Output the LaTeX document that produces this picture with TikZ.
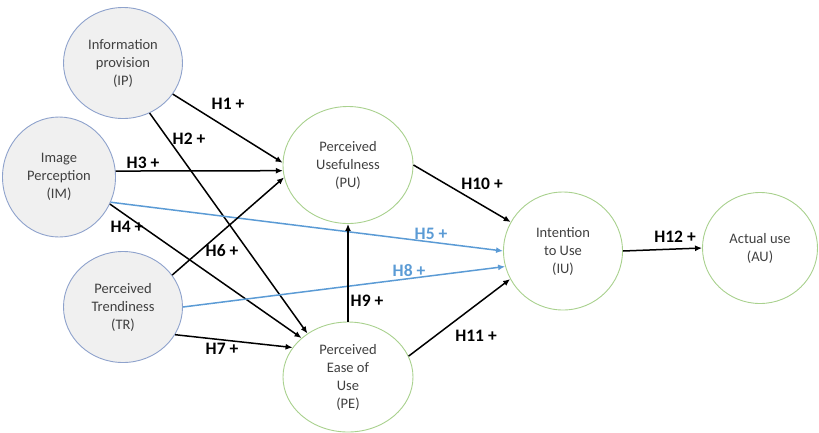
\documentclass[tikz,border=0pt]{standalone}
\usepackage{fontspec}
\setmainfont{Carlito}
\usetikzlibrary{shapes.geometric,arrows.meta}
\definecolor{grayfill}{HTML}{F0F0F0}
\definecolor{grayedge}{HTML}{8EA2CC}
\definecolor{greenedge}{HTML}{A9D18E}
\definecolor{bluearrow}{HTML}{5B9BD5}
\definecolor{nodetext}{HTML}{404040}
\begin{document}
\begin{tikzpicture}[x=1pt,y=-1pt,
  src/.style={ellipse,draw=grayedge,fill=grayfill,line width=0.9pt,text=nodetext,font=\fontsize{14.5}{18}\selectfont,align=center,inner sep=0pt},
  tgt/.style={ellipse,draw=greenedge,fill=white,line width=0.9pt,text=nodetext,font=\fontsize{14.5}{18}\selectfont,align=center,inner sep=0pt},
  link/.style={line width=1.5pt,-{Latex[length=7pt,width=6pt]}},
  blink/.style={link,draw=bluearrow,-{Latex[length=7pt,width=6pt,color=bluearrow]}},
  lab/.style={font=\fontsize{17.5}{19}\selectfont\bfseries,text=black,inner sep=0pt},
  blab/.style={lab,text=bluearrow}]
\useasboundingbox (0,0) rectangle (819,432);
\node[src,minimum width=119pt,minimum height=111pt] (IP) at (123,63) {Information\\provision\\(IP)};
\node[src,minimum width=113pt,minimum height=120pt] (IM) at (59,177) {Image\\Perception\\(IM)};
\node[src,minimum width=119pt,minimum height=111pt] (TR) at (123,307) {Perceived\\Trendiness\\(TR)};
\node[tgt,minimum width=130pt,minimum height=117pt] (PU) at (348,165) {Perceived\\Usefulness\\(PU)};
\node[tgt,minimum width=130pt,minimum height=110pt] (PE) at (348,377) {Perceived\\Ease of\\Use\\(PE)};
\node[tgt,minimum width=119pt,minimum height=118pt] (IU) at (563,251) {Intention\\to Use\\(IU)};
\node[tgt,minimum width=115pt,minimum height=111pt] (AU) at (760,248) {Actual use\\(AU)};
\draw[link] (IP.-32) -- (PU.178);
\draw[link] (IP.-62) -- (PE.133);
\draw[link] (IM.6) -- (PU.185);
\draw[link] (IM.-28) -- (PE.140);
\draw[blink] (IM.-26) -- (IU.180);
\draw[link] (TR.33) -- (PU.191);
\draw[link] (TR.-28) -- (PE.152);
\draw[blink] (TR.0) -- (IU.195);
\draw[link] (PE.90) -- (PU.270);
\draw[link] (PU.0) -- (IU.151);
\draw[link] (PE.19) -- (IU.208);
\draw[link] (IU.0) -- (AU.180);
\node[lab] (l1) at (228,104) {H1 +};
\node[lab] (l2) at (189,139) {H2 +};
\node[lab] (l3) at (143,163) {H3 +};
\node[lab] (l4) at (127,227) {H4 +};
\node[blab] (l5) at (431,234) {H5 +};
\node[lab] (l6) at (222,251) {H6 +};
\node[lab] (l7) at (222,349) {H7 +};
\node[blab] (l8) at (409,271) {H8 +};
\node[lab] (l9) at (367,301) {H9 +};
\node[lab] (l10) at (482,184) {H10 +};
\node[lab] (l11) at (476,336) {H11 +};
\node[lab] (l12) at (675,237) {H12 +};
\end{tikzpicture}
\end{document}
